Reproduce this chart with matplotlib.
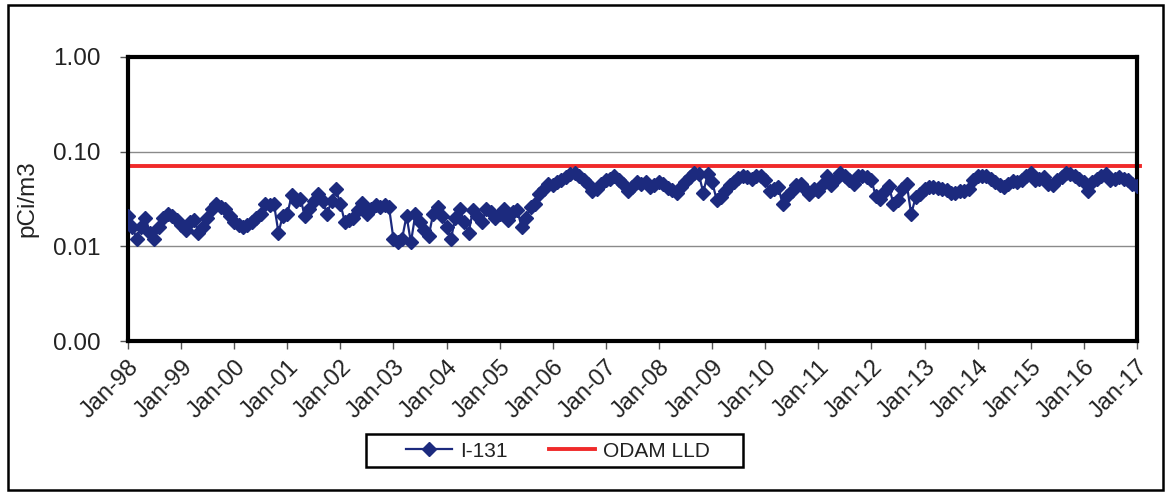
import numpy as np
import pandas as pd
import matplotlib
matplotlib.use("Agg")
import matplotlib.pyplot as plt
import matplotlib.dates as mdates
from matplotlib.patches import Rectangle
from matplotlib.ticker import FixedLocator, FuncFormatter, NullLocator

plt.rcParams['font.family'] = ['Liberation Sans', 'DejaVu Sans']

# monthly I-131 values, Jan-98 .. Jan-17
i131 = [
    0.021, 0.016, 0.012, 0.016, 0.020, 0.014, 0.012, 0.016, 0.020, 0.022, 0.021, 0.019,  # 1998
    0.017, 0.015, 0.018, 0.019, 0.014, 0.016, 0.020, 0.025, 0.028, 0.026, 0.025, 0.021,  # 1999
    0.018, 0.017, 0.016, 0.017, 0.018, 0.020, 0.022, 0.028, 0.027, 0.028, 0.014, 0.021,  # 2000
    0.022, 0.035, 0.030, 0.032, 0.021, 0.025, 0.030, 0.036, 0.030, 0.022, 0.030, 0.040,  # 2001
    0.028, 0.018, 0.019, 0.020, 0.024, 0.029, 0.022, 0.025, 0.027, 0.026, 0.027, 0.026,  # 2002
    0.012, 0.011, 0.012, 0.021, 0.011, 0.022, 0.018, 0.015, 0.013, 0.022, 0.026, 0.021,  # 2003
    0.016, 0.012, 0.020, 0.025, 0.018, 0.014, 0.024, 0.021, 0.018, 0.025, 0.023, 0.020,  # 2004
    0.022, 0.025, 0.019, 0.023, 0.024, 0.016, 0.020, 0.026, 0.028, 0.036, 0.040, 0.046,  # 2005
    0.044, 0.048, 0.050, 0.054, 0.058, 0.060, 0.056, 0.050, 0.046, 0.038, 0.040, 0.046,  # 2006
    0.050, 0.052, 0.055, 0.050, 0.046, 0.038, 0.042, 0.048, 0.046, 0.048, 0.042, 0.044,  # 2007
    0.048, 0.046, 0.041, 0.039, 0.037, 0.042, 0.048, 0.054, 0.060, 0.058, 0.037, 0.058,  # 2008
    0.048, 0.031, 0.033, 0.038, 0.044, 0.048, 0.053, 0.056, 0.054, 0.052, 0.055, 0.056,  # 2009
    0.050, 0.038, 0.040, 0.042, 0.028, 0.034, 0.038, 0.044, 0.046, 0.040, 0.036, 0.040,  # 2010
    0.038, 0.046, 0.056, 0.044, 0.052, 0.060, 0.056, 0.050, 0.046, 0.055, 0.056, 0.054,  # 2011
    0.050, 0.034, 0.032, 0.038, 0.043, 0.028, 0.031, 0.040, 0.045, 0.022, 0.033, 0.036,  # 2012
    0.040, 0.042, 0.042, 0.041, 0.040, 0.039, 0.037, 0.037, 0.038, 0.038, 0.040, 0.050,  # 2013
    0.056, 0.055, 0.056, 0.052, 0.048, 0.044, 0.042, 0.046, 0.049, 0.048, 0.050, 0.056,  # 2014
    0.060, 0.050, 0.052, 0.054, 0.046, 0.044, 0.050, 0.054, 0.060, 0.058, 0.056, 0.052,  # 2015
    0.048, 0.038, 0.048, 0.052, 0.056, 0.058, 0.050, 0.052, 0.054, 0.052, 0.050, 0.046,  # 2016
    0.043,                                                                                # 2017
]
odam_lld = 0.07
y_ticks = [0.001, 0.01, 0.1, 1.0]
y_tick_labels = ['0.00', '0.01', '0.10', '1.00']

dates = pd.date_range('1998-01-01', periods=len(i131), freq='MS')
years = pd.date_range('1998-01-01', '2017-01-01', freq='YS')

fig = plt.figure(figsize=(11.72, 4.93), dpi=100)
ax = fig.add_axes([0.1092, 0.3083, 0.8609, 0.5761])

navy = '#1c2a7e'
ax.plot(dates, i131, color=navy, lw=1.6, marker='D', ms=7.5,
        mec=navy, mfc=navy, label='I-131', zorder=3)
ax.axhline(odam_lld, color='#f02a2a', lw=2.8, label='ODAM LLD', zorder=2,
           xmax=1.003, clip_on=False)

ax.set_yscale('log')
ax.set_ylim(0.001, 1.0)
ax.yaxis.set_major_locator(FixedLocator(y_ticks))
ax.yaxis.set_minor_locator(NullLocator())
ax.yaxis.set_major_formatter(FuncFormatter(lambda v, p: y_tick_labels[y_ticks.index(v)] if v in y_ticks else ''))
ax.grid(axis='y', color='#8a8a8a', lw=1.0)
ax.set_axisbelow(True)

ax.set_xlim(dates[0], dates[-1])
ax.set_xticks(years)
ax.xaxis.set_major_formatter(mdates.DateFormatter('%b-%y'))
plt.setp(ax.get_xticklabels(), rotation=45, ha='right', rotation_mode='anchor')

ax.tick_params(axis='both', length=6, width=1, direction='out', color='#555555',
               labelcolor='#222222')
ax.tick_params(axis='x', pad=5, labelsize=17)
ax.tick_params(axis='y', pad=14, labelsize=17.5)
for s in ax.spines.values():
    s.set_linewidth(3)
    s.set_color('black')

ax.set_ylabel('pCi/m3', fontsize=17.5, labelpad=10, color='#222222')

# legend drawn without its own frame, box added separately (Excel style padding)
leg = fig.legend(loc='center', bbox_to_anchor=(0.476, 0.085), ncol=2, fontsize=15,
                 frameon=False, handlelength=2.2, handletextpad=0.4,
                 columnspacing=2.0)
for t in leg.get_texts():
    t.set_color('#222222')
fig.patches.append(Rectangle((366 / 1172, 1 - 467 / 493), 377 / 1172, 33 / 493,
                             transform=fig.transFigure, fill=False,
                             edgecolor='black', lw=1.8))

fig.patches.append(Rectangle((8 / 1172, 3 / 493), 1155 / 1172, 485 / 493,
                             transform=fig.transFigure, fill=False,
                             edgecolor='black', lw=1.8))

fig.savefig('out.png', dpi=100)
